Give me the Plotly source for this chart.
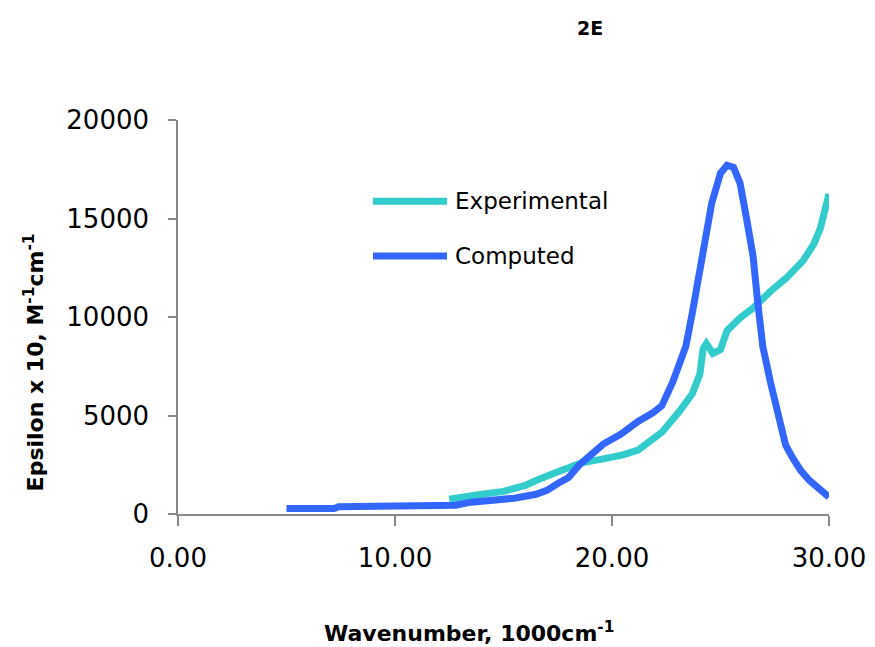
import plotly.graph_objects as go

# Data
comp_x = [5.0, 7.2, 7.4, 12.5, 12.8, 13.5, 14.5, 15.5, 16.5, 17.0, 17.5, 18.0, 18.5, 19.0,
          19.6, 20.4, 21.2, 21.9, 22.3, 22.8, 23.1, 23.4, 23.7, 24.0, 24.3, 24.6, 25.0,
          25.3, 25.6, 25.9, 26.2, 26.5, 26.7, 26.95, 27.3, 27.7, 28.0, 28.3, 28.7, 29.1,
          29.5, 30.0]
comp_y = [280, 280, 370, 370, 450, 600, 700, 800, 1000, 1200, 1550, 1850, 2500, 3000,
          3550, 4050, 4700, 5150, 5500, 6700, 7600, 8500, 10200, 12200, 14300, 15800, 17300,
          17700, 17600, 16800, 15000, 13100, 10900, 8500, 6700, 4900, 3500, 2900, 2200, 1700,
          1300, 860]

exp_x = [12.5, 13.0, 14.0, 15.0, 16.0, 16.5, 17.0, 17.5, 18.0, 18.6, 19.6, 20.5, 21.2,
         21.8, 22.3, 23.1, 23.7, 24.05, 24.2, 24.35, 24.65, 25.0, 25.3, 25.9, 26.5, 27.3,
         28.05, 28.8, 29.3, 29.6, 30.0]
exp_y = [750, 850, 1000, 1150, 1450, 1700, 1950, 2150, 2350, 2600, 2800, 3000, 3250,
         3700, 4150, 5200, 6100, 7100, 8400, 8650, 8150, 8350, 9300, 9950, 10450, 11300,
         12000, 12850, 13700, 14500, 16250]

x_ticks = [0, 10, 20, 30]
x_tick_labels = ["0.00", "10.00", "20.00", "30.00"]
y_ticks = [0, 5000, 10000, 15000, 20000]
y_tick_labels = ["0", "5000", "10000", "15000", "20000"]

TEAL = "#33CCCC"
BLUE = "#3366FF"
FONT = "DejaVu Sans"

fig = go.Figure()
fig.add_trace(go.Scatter(x=exp_x, y=exp_y, mode="lines", name="Experimental",
                         line=dict(color=TEAL, width=7), showlegend=False))
fig.add_trace(go.Scatter(x=comp_x, y=comp_y, mode="lines", name="Computed",
                         line=dict(color=BLUE, width=7), showlegend=False))

axis_col = "#888888"
fig.update_xaxes(range=[0, 30], tickvals=x_ticks, ticktext=x_tick_labels,
                 showline=True, linecolor=axis_col, linewidth=1.5,
                 ticks="outside", tickcolor=axis_col, ticklen=10, tickwidth=1.5,
                 showgrid=False, zeroline=False, ticklabelstandoff=10,
                 tickfont=dict(family=FONT, size=26, color="#000"))
fig.update_yaxes(range=[0, 20000], tickvals=y_ticks, ticktext=y_tick_labels,
                 showline=True, linecolor=axis_col, linewidth=1.5,
                 ticks="outside", tickcolor=axis_col, ticklen=8, tickwidth=1.5,
                 showgrid=False, zeroline=False, ticklabelstandoff=14,
                 tickfont=dict(family=FONT, size=26, color="#000"))

# Custom legend (long line samples)
legend_items = [("Experimental", TEAL, 0.794), ("Computed", BLUE, 0.6548)]
for name, col, yy in legend_items:
    fig.add_shape(type="line", xref="paper", yref="paper", x0=0.2995, x1=0.4132,
                  y0=yy, y1=yy, line=dict(color=col, width=7))
    fig.add_annotation(text=name, xref="paper", yref="paper", x=0.4224, y=yy,
                       xanchor="left", yanchor="middle", showarrow=False,
                       font=dict(family=FONT, size=23, color="#000"))

fig.add_annotation(text="<b>2E</b>", xref="paper", yref="paper", x=0.633, y=1.2335,
                   xanchor="center", yanchor="middle", showarrow=False,
                   font=dict(family=FONT, size=19, color="#000"))
fig.add_annotation(text="<b>Epsilon x 10, M<sup>-1</sup>cm<sup>-1</sup></b>", xref="paper",
                   yref="paper", x=-0.222, y=0.386, textangle=-90,
                   xanchor="center", yanchor="middle", showarrow=False,
                   font=dict(family=FONT, size=22, color="#000"))
fig.add_annotation(text="<b>Wavenumber, 1000cm<sup>-1</sup></b>", xref="paper",
                   yref="paper", x=0.447, y=-0.2995,
                   xanchor="center", yanchor="middle", showarrow=False,
                   font=dict(family=FONT, size=22, color="#000"))

# page body has an 8px default margin: shift the plot up/left to compensate
fig.update_layout(width=875, height=647, margin=dict(l=170, r=54, t=112, b=141),
                  plot_bgcolor="white", paper_bgcolor="white", showlegend=False)

fig.write_html("out.html")
